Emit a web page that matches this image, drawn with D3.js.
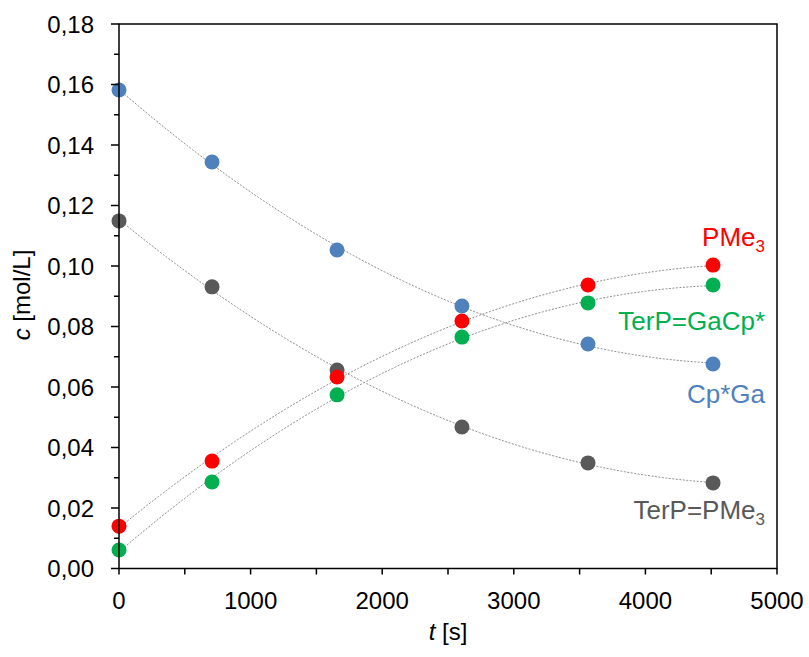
<!DOCTYPE html>
<html>
<head>
<meta charset="utf-8">
<script src="https://cdn.jsdelivr.net/npm/d3@7"></script>
<style>
  body { margin: 0; background: #fff; }
  svg { font-family: "Liberation Sans", Arial, sans-serif; }
</style>
</head>
<body>
<svg id="chart" width="809" height="657"></svg>
<script>
// Sampling times (s)
const times = [0, 707, 1657, 2606, 3564, 4514];

// Concentrations (mol/L)
const cpGa   = [0.1582, 0.1344, 0.1053, 0.0868, 0.0742, 0.0676];
const terPMe = [0.1149, 0.0931, 0.0656, 0.0468, 0.0349, 0.0283];
const pMe3   = [0.0140, 0.0355, 0.0633, 0.0818, 0.0937, 0.1003];
const terGa  = [0.0061, 0.0286, 0.0574, 0.0765, 0.0878, 0.0937];

const xTicks = [0, 1000, 2000, 3000, 4000, 5000];
const yTicks = [0, 0.02, 0.04, 0.06, 0.08, 0.10, 0.12, 0.14, 0.16, 0.18];

const series = [
  { name: "Cp*Ga",     values: cpGa,   color: "#4F81BD", label: [{t: "Cp*Ga"}],                         ly: 403 },
  { name: "TerP=PMe3", values: terPMe, color: "#595959", label: [{t: "TerP=PMe"}, {t: "3", sub: true}], ly: 519 },
  { name: "PMe3",      values: pMe3,   color: "#FF0000", label: [{t: "PMe"}, {t: "3", sub: true}],      ly: 246 },
  { name: "TerP=GaCp*",values: terGa,  color: "#00B050", label: [{t: "TerP=GaCp*"}],                    ly: 330 }
];

const plotL = 119, plotR = 777, plotT = 24, plotB = 568.5;
const x = d3.scaleLinear().domain([0, 5000]).range([plotL, plotR]);
const y = d3.scaleLinear().domain([0, 0.18]).range([plotB, plotT]);

const svg = d3.select("#chart");
const fmt = d => d3.format(".2f")(d).replace(".", ",");

// Quadratic least-squares trendline for each series
function quadFit(xs, ys) {
  const n = xs.length;
  let s = [0, 0, 0, 0, 0], t = [0, 0, 0];
  for (let i = 0; i < n; i++) {
    const xi = xs[i] / 1000, yi = ys[i];
    for (let k = 0; k < 5; k++) s[k] += Math.pow(xi, k);
    for (let k = 0; k < 3; k++) t[k] += yi * Math.pow(xi, k);
  }
  const A = [[s[0], s[1], s[2], t[0]], [s[1], s[2], s[3], t[1]], [s[2], s[3], s[4], t[2]]];
  for (let i = 0; i < 3; i++) {
    for (let j = i + 1; j < 3; j++) {
      const f = A[j][i] / A[i][i];
      for (let k = i; k < 4; k++) A[j][k] -= f * A[i][k];
    }
  }
  const c = [0, 0, 0];
  for (let i = 2; i >= 0; i--) {
    let v = A[i][3];
    for (let k = i + 1; k < 3; k++) v -= A[i][k] * c[k];
    c[i] = v / A[i][i];
  }
  return xv => c[0] + c[1] * (xv / 1000) + c[2] * (xv / 1000) ** 2;
}

const line = d3.line().x(d => x(d[0])).y(d => y(d[1]));
series.forEach(s => {
  const f = quadFit(times, s.values);
  const tEnd = times[times.length - 1];
  const pts = d3.range(0, tEnd, 20).map(tv => [tv, f(tv)]);
  pts.push([tEnd, f(tEnd)]);
  svg.append("path")
    .attr("d", line(pts))
    .attr("fill", "none")
    .attr("stroke", "#8c8c8c")
    .attr("stroke-width", 1)
    .attr("stroke-dasharray", "2,1.5");
});

// Data points
series.forEach(s => {
  svg.append("g").selectAll("circle")
    .data(times.map((tv, i) => [tv, s.values[i]]))
    .join("circle")
    .attr("cx", d => x(d[0]))
    .attr("cy", d => y(d[1]))
    .attr("r", 7.5)
    .attr("fill", s.color);
});

// Frame
svg.append("rect")
  .attr("x", plotL).attr("y", plotT)
  .attr("width", plotR - plotL).attr("height", plotB - plotT)
  .attr("fill", "none").attr("stroke", "#000").attr("stroke-width", 1.5);

// Y axis ticks
const yMinor = d3.range(0.01, 0.18, 0.02);
svg.append("g").selectAll("line").data(yTicks).join("line")
  .attr("x1", plotL - 8).attr("x2", plotL)
  .attr("y1", d => y(d)).attr("y2", d => y(d))
  .attr("stroke", "#000").attr("stroke-width", 1.5);
svg.append("g").selectAll("line").data(yMinor).join("line")
  .attr("x1", plotL - 5).attr("x2", plotL)
  .attr("y1", d => y(d)).attr("y2", d => y(d))
  .attr("stroke", "#000").attr("stroke-width", 1.5);
svg.append("g").selectAll("text").data(yTicks).join("text")
  .attr("x", 94).attr("y", d => y(d) + 8.5)
  .attr("text-anchor", "end")
  .attr("font-size", 24)
  .text(fmt);

// X axis ticks
const xAll = d3.range(0, 5001, 500);
svg.append("g").selectAll("line").data(xAll).join("line")
  .attr("x1", d => x(d)).attr("x2", d => x(d))
  .attr("y1", plotB).attr("y2", plotB + 6)
  .attr("stroke", "#000").attr("stroke-width", 1.5);
svg.append("g").selectAll("text").data(xTicks).join("text")
  .attr("x", d => x(d)).attr("y", 609)
  .attr("text-anchor", "middle")
  .attr("font-size", 24)
  .text(d => d);

// Axis titles
const xt = svg.append("text").attr("x", 448).attr("y", 640)
  .attr("text-anchor", "middle").attr("font-size", 24);
xt.append("tspan").attr("font-style", "italic").text("t");
xt.append("tspan").text(" [s]");

const yt = svg.append("text")
  .attr("transform", "translate(30,295) rotate(-90)")
  .attr("text-anchor", "middle").attr("font-size", 24);
yt.append("tspan").attr("font-style", "italic").text("c");
yt.append("tspan").text(" [mol/L]");

// Series labels
series.forEach(s => {
  const txt = svg.append("text")
    .attr("x", 765).attr("y", s.ly)
    .attr("text-anchor", "end")
    .attr("font-size", 26)
    .attr("fill", s.color);
  s.label.forEach(p => {
    const sp = txt.append("tspan").text(p.t);
    if (p.sub) sp.attr("font-size", 17).attr("dy", 6);
  });
});
</script>
</body>
</html>
